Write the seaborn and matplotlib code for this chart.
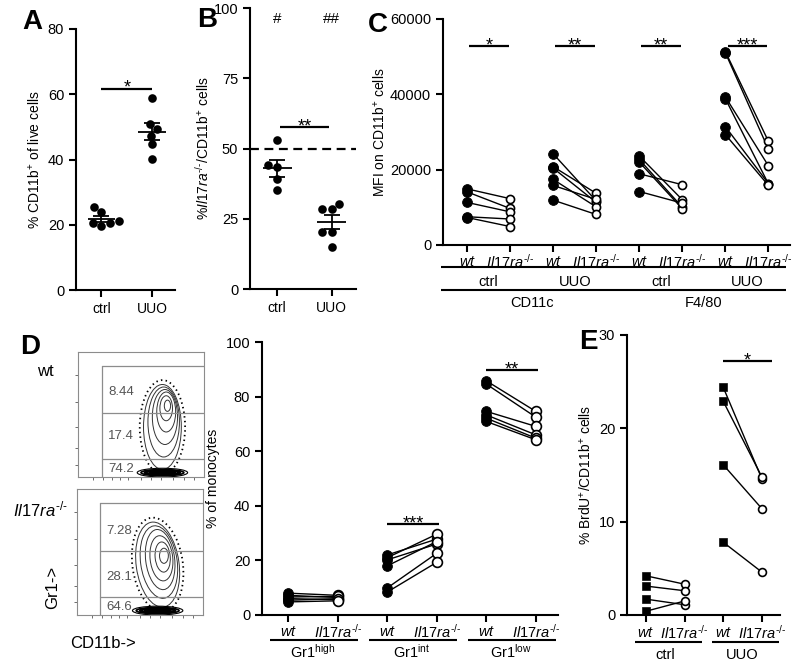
import numpy as np
import pandas as pd
import matplotlib
matplotlib.use('Agg')
import matplotlib.pyplot as plt
from matplotlib.patches import Ellipse
from matplotlib.transforms import blended_transform_factory
import seaborn as sns

# ============================================================
# DATA
# ============================================================
groups_ab = ['ctrl', 'UUO']
a_ctrl = [25.5, 23.8, 20.6, 19.5, 20.4, 21.0]
a_uuo = [58.8, 51.0, 49.2, 47.3, 44.7, 40.1]
b_ctrl = [53.2, 44.0, 43.3, 39.3, 35.1]
b_uuo = [30.3, 28.4, 28.4, 20.2, 20.2, 14.8]

c_markers = ['CD11c', 'F4/80']
c_conds = ['ctrl', 'UUO']
c_cd11c_ctrl_wt = [14900, 14100, 11300, 7500, 7300]
c_cd11c_ctrl_ko = [12300, 9700, 8800, 6900, 4900]
c_cd11c_uuo_wt = [24200, 20800, 20400, 17400, 15800, 11900]
c_cd11c_uuo_ko = [11700, 13700, 11300, 10100, 12100, 8100]
c_f480_ctrl_wt = [23600, 22700, 22000, 18900, 14200]
c_f480_ctrl_ko = [12000, 10000, 9600, 16000, 11100]
c_f480_uuo_wt = [51300, 51000, 39300, 38800, 31400, 29300]
c_f480_uuo_ko = [27500, 25400, 21000, 16200, 16300, 15800]

d_groups = [r'Gr1$^{\rm high}$', r'Gr1$^{\rm int}$', r'Gr1$^{\rm low}$']
d_high_wt = [8.0, 7.2, 6.6, 6.0, 5.4, 4.8]
d_high_ko = [7.2, 6.4, 6.8, 5.6, 6.0, 5.2]
d_int_wt = [22.0, 21.0, 20.2, 18.0, 9.9, 8.4]
d_int_ko = [27.8, 29.6, 26.0, 26.9, 22.6, 19.3]
d_low_wt = [85.8, 84.6, 74.6, 73.3, 72.1, 70.9]
d_low_ko = [74.6, 72.5, 69.1, 66.0, 64.8, 64.2]

e_groups = ['ctrl', 'UUO']
e_ctrl_wt = [4.2, 3.1, 1.7, 0.4]
e_ctrl_ko = [3.3, 2.6, 1.1, 1.5]
e_uuo_wt = [24.4, 22.9, 16.1, 7.8]
e_uuo_ko = [14.6, 14.8, 11.4, 4.6]

# flow cytometry gate percentages
flow_wt_pct = ['8.44', '17.4', '74.2']
flow_ko_pct = ['7.28', '28.1', '64.6']
# contour outlines (fraction of plot box): cx, cy, width, height, angle
flow_wt_contours = [(0.67, 0.40, 0.30, 0.68, 0), (0.68, 0.44, 0.25, 0.56, 0),
                    (0.69, 0.48, 0.20, 0.44, 0), (0.70, 0.52, 0.15, 0.32, 0),
                    (0.70, 0.55, 0.10, 0.20, 0), (0.71, 0.57, 0.05, 0.09, 0)]
flow_ko_contours = [(0.64, 0.40, 0.34, 0.68, 8), (0.65, 0.42, 0.29, 0.58, 8),
                    (0.66, 0.44, 0.23, 0.48, 7), (0.67, 0.45, 0.18, 0.36, 6),
                    (0.68, 0.46, 0.12, 0.24, 5), (0.69, 0.47, 0.07, 0.12, 0)]

KO = r'$\mathit{Il17ra}^{\text{-/-}}$'

# ============================================================
# STYLE
# ============================================================
sns.set_style('ticks')
plt.rcParams['font.family'] = ['Liberation Sans', 'DejaVu Sans']
plt.rcParams.update({
    'font.size': 10, 'axes.linewidth': 1.5,
    'xtick.major.width': 1.5, 'ytick.major.width': 1.5,
    'xtick.major.size': 5, 'ytick.major.size': 5,
    'axes.edgecolor': 'black', 'xtick.color': 'black', 'ytick.color': 'black',
    'text.color': 'black', 'axes.labelcolor': 'black',
    'xtick.labelsize': 10, 'ytick.labelsize': 10.5, 'axes.labelsize': 10,
    'mathtext.fontset': 'custom', 'mathtext.rm': 'Liberation Sans',
    'mathtext.it': 'Liberation Sans:italic', 'mathtext.bf': 'Liberation Sans:bold',
})

W, H = 795, 664
fig = plt.figure(figsize=(W / 100, H / 100), dpi=100)


def add_ax(x0, y0, x1, y1):
    return fig.add_axes([x0 / W, 1 - y1 / H, (x1 - x0) / W, (y1 - y0) / H])


def below_text(ax, x, px, s, **kw):
    tr = blended_transform_factory(ax.transData, ax.transAxes)
    ax.text(x, -px / ax.bbox.height, s, transform=tr, ha='center', va='center',
            clip_on=False, **kw)


def below_line(ax, x0, x1, px):
    tr = blended_transform_factory(ax.transData, ax.transAxes)
    ax.plot([x0, x1], [-px / ax.bbox.height] * 2, transform=tr, color='k', lw=1.5,
            clip_on=False, solid_capstyle='butt')


def sig(ax, x0, x1, y, s):
    ax.plot([x0, x1], [y, y], color='k', lw=1.6, solid_capstyle='butt')
    ax.annotate(s, xy=((x0 + x1) / 2, y), xytext=(0, -3), textcoords='offset points',
                ha='center', va='baseline', fontsize=13)


def dot_panel(ax, ctrl, uuo):
    df = pd.DataFrame({'group': ['ctrl'] * len(ctrl) + ['UUO'] * len(uuo),
                       'val': ctrl + uuo})
    sns.swarmplot(data=df, x='group', y='val', order=groups_ab, color='k', size=6.2,
                  ax=ax, zorder=3)
    st = df.groupby('group')['val'].agg(['mean', 'sem']).reindex(groups_ab)
    pos = np.arange(len(groups_ab))
    ax.hlines(st['mean'], pos - 0.27, pos + 0.27, color='k', lw=1.3, zorder=4)
    ax.errorbar(pos, st['mean'], yerr=st['sem'], fmt='none', ecolor='k',
                elinewidth=1.3, capsize=6, capthick=1.3, zorder=4)
    ax.set_xlim(-0.5, 1.45)
    ax.set_xlabel('')
    sns.despine(ax=ax)


def paired_frame(pairs):
    rows = []
    for g, (wt, ko) in enumerate(pairs):
        for i, (a, b) in enumerate(zip(wt, ko)):
            rows.append({'slot': 2 * g, 'val': a, 'geno': 'wt', 'unit': f'{g}-{i}'})
            rows.append({'slot': 2 * g + 1, 'val': b, 'geno': 'ko', 'unit': f'{g}-{i}'})
    return pd.DataFrame(rows)


def paired_panel(ax, df, wt_marker='o', wt_size=55, ko_size=38):
    sns.lineplot(data=df, x='slot', y='val', units='unit', estimator=None, color='k',
                 lw=1, ax=ax, legend=False, zorder=2)
    sns.scatterplot(data=df[df.geno == 'wt'], x='slot', y='val', marker=wt_marker,
                    color='k', edgecolor='k', s=wt_size, ax=ax, zorder=3, legend=False)
    sns.scatterplot(data=df[df.geno == 'ko'], x='slot', y='val', marker='o',
                    color='white', edgecolor='k', linewidth=1.2, s=ko_size, ax=ax,
                    zorder=4, legend=False)
    ax.set_xticks(sorted(df['slot'].unique()))
    ax.set_xticklabels([])
    ax.set_xlabel('')
    sns.despine(ax=ax)


# ============================================================
# A
# ============================================================
ax = add_ax(76, 29, 175, 290)
dot_panel(ax, a_ctrl, a_uuo)
ax.set_ylim(0, 80)
ax.set_yticks([0, 20, 40, 60, 80])
ax.set_ylabel(r'% CD11b$^{+}$ of live cells')
sig(ax, 0, 1, 61.7, '*')

# ============================================================
# B
# ============================================================
ax = add_ax(250, 8, 356, 289)
dot_panel(ax, b_ctrl, b_uuo)
ax.axhline(50, color='k', lw=1.6, ls=(0, (4, 2.5)))
ax.set_ylim(0, 100)
ax.set_yticks([0, 25, 50, 75, 100])
ax.set_ylabel(r'%' + KO + r'/CD11b$^{+}$ cells', labelpad=1)
sig(ax, 0.05, 0.95, 57.6, '**')
for x, s in zip(range(2), ['#', '##']):
    ax.text(x, 96, s, ha='center', va='center', fontsize=11)

# ============================================================
# C
# ============================================================
ax = add_ax(443, 19, 790, 245)
df_c = paired_frame([(c_cd11c_ctrl_wt, c_cd11c_ctrl_ko), (c_cd11c_uuo_wt, c_cd11c_uuo_ko),
                     (c_f480_ctrl_wt, c_f480_ctrl_ko), (c_f480_uuo_wt, c_f480_uuo_ko)])
paired_panel(ax, df_c, wt_size=50, ko_size=34)
ax.set_ylim(0, 60000)
ax.set_yticks([0, 20000, 40000, 60000])
ax.set_xlim(-0.56, 7.5)
ax.set_ylabel(r'MFI on CD11b$^{+}$ cells', labelpad=2)
for g, s in enumerate(['*', '**', '**', '***']):
    sig(ax, 2 * g + 0.05, 2 * g + 0.97, 52700, s)
for g in range(4):
    below_text(ax, 2 * g, 17, r'$\mathit{wt}$', fontsize=10.5)
    below_text(ax, 2 * g + 1, 17, KO, fontsize=10.5)
    below_line(ax, 2 * g - 0.6, 2 * g + 1.4, 22)
    below_text(ax, 2 * g + 0.5, 37, c_conds[g % 2], fontsize=10.5)
for m, name in enumerate(c_markers):
    below_line(ax, 4 * m - 0.6, 4 * m + 3.4, 45)
    below_text(ax, 4 * m + 1.5, 58, name, fontsize=10.5)


# ============================================================
# D - flow plots
# ============================================================
def flow(ax, contours, gate_x, cuts, pct, pct_y):
    for cx, cy, w, h, ang in contours:
        ax.add_patch(Ellipse((cx, cy), w, h, angle=ang, fill=False, lw=0.7, ec='#333333'))
    cx, cy, w, h, ang = contours[0]
    ax.add_patch(Ellipse((cx, cy), w + 0.06, h + 0.07, angle=ang, fill=False, lw=1.3,
                         ec='k', ls=(0, (0.8, 1.8))))
    for bw, bh, lw in [(0.40, 0.07, 0.8), (0.34, 0.05, 1.2), (0.28, 0.035, 1.6), (0.2, 0.02, 2)]:
        ax.add_patch(Ellipse((cx, 0.035), bw, bh, fill=False, lw=lw, ec='k'))
    ax.plot([gate_x, gate_x], [0, 0.89], color='#8c8c8c', lw=0.9)
    for yy in [0.89] + cuts:
        ax.plot([gate_x, 1], [yy, yy], color='#8c8c8c', lw=0.9)
    for s, yy in zip(pct, pct_y):
        ax.text(gate_x + 0.05, yy, s, ha='left', va='center', color='#555555', fontsize=9.5)
    ax.set_xlim(0, 1)
    ax.set_ylim(0, 1)
    ax.set_xticks([0.12, 0.2, 0.27, 0.33, 0.4, 0.5, 0.58, 0.66, 0.75, 0.84, 0.92])
    ax.set_yticks([0.1, 0.23, 0.4, 0.6, 0.82])
    ax.tick_params(length=2.5, width=0.6, color='#555555', labelleft=False, labelbottom=False)
    for sp in ax.spines.values():
        sp.set_color('#8c8c8c')
        sp.set_linewidth(0.8)


ax = add_ax(78, 352, 204, 477)
flow(ax, flow_wt_contours, 0.19, [0.51, 0.144], flow_wt_pct, [0.68, 0.33, 0.06])
ax = add_ax(77, 489, 203, 615)
flow(ax, flow_ko_contours, 0.18, [0.51, 0.14], flow_ko_pct, [0.67, 0.30, 0.065])
fig.text(45 / W, 1 - 372 / H, 'wt', ha='center', va='center', fontsize=12)
fig.text(40 / W, 1 - 509 / H, KO, ha='center', va='center', fontsize=12)
fig.text(53 / W, 1 - 587 / H, 'Gr1->', ha='center', va='center', fontsize=12, rotation=90)
fig.text(103 / W, 1 - 643 / H, 'CD11b->', ha='center', va='center', fontsize=12)

# ============================================================
# D - paired monocytes
# ============================================================
ax = add_ax(262, 342, 558, 615)
df_d = paired_frame([(d_high_wt, d_high_ko), (d_int_wt, d_int_ko), (d_low_wt, d_low_ko)])
paired_panel(ax, df_d, wt_size=50, ko_size=50)
ax.set_ylim(0, 100)
ax.set_yticks([0, 20, 40, 60, 80, 100])
ax.set_xlim(-0.53, 5.45)
ax.set_ylabel('% of monocytes')
sig(ax, 2, 3.05, 33.3, '***')
sig(ax, 4, 5.05, 89.8, '**')
for g, name in enumerate(d_groups):
    below_text(ax, 2 * g, 17, r'$\mathit{wt}$', fontsize=10.5)
    below_text(ax, 2 * g + 1, 17, KO, fontsize=10.5)
    below_line(ax, 2 * g - 0.37, 2 * g + 1.4, 25)
    below_text(ax, 2 * g + 0.5, 37, name, fontsize=10.5)

# ============================================================
# E
# ============================================================
ax = add_ax(627, 335, 780, 615)
df_e = paired_frame([(e_ctrl_wt, e_ctrl_ko), (e_uuo_wt, e_uuo_ko)])
paired_panel(ax, df_e, wt_marker='s', wt_size=32, ko_size=32)
ax.set_ylim(0, 30)
ax.set_yticks([0, 10, 20, 30])
ax.set_xlim(-0.49, 3.47)
ax.set_ylabel(r'% BrdU$^{+}$/CD11b$^{+}$ cells')
sig(ax, 2, 3.25, 27.2, '*')
for g, name in enumerate(e_groups):
    below_text(ax, 2 * g, 18, r'$\mathit{wt}$', fontsize=10.5)
    below_text(ax, 2 * g + 1, 18, KO, fontsize=10.5)
    below_line(ax, 2 * g - 0.28, 2 * g + 1.45, 27)
    below_text(ax, 2 * g + 0.5, 40, name, fontsize=10.5)

# panel letters
for s, x, y in [('A', 32, 22), ('B', 207, 20), ('C', 378, 25), ('D', 30, 347), ('E', 588, 342)]:
    fig.text(x / W, 1 - y / H, s, ha='center', va='center', fontsize=20, fontweight='bold')

fig.savefig('out.png', dpi=100)
